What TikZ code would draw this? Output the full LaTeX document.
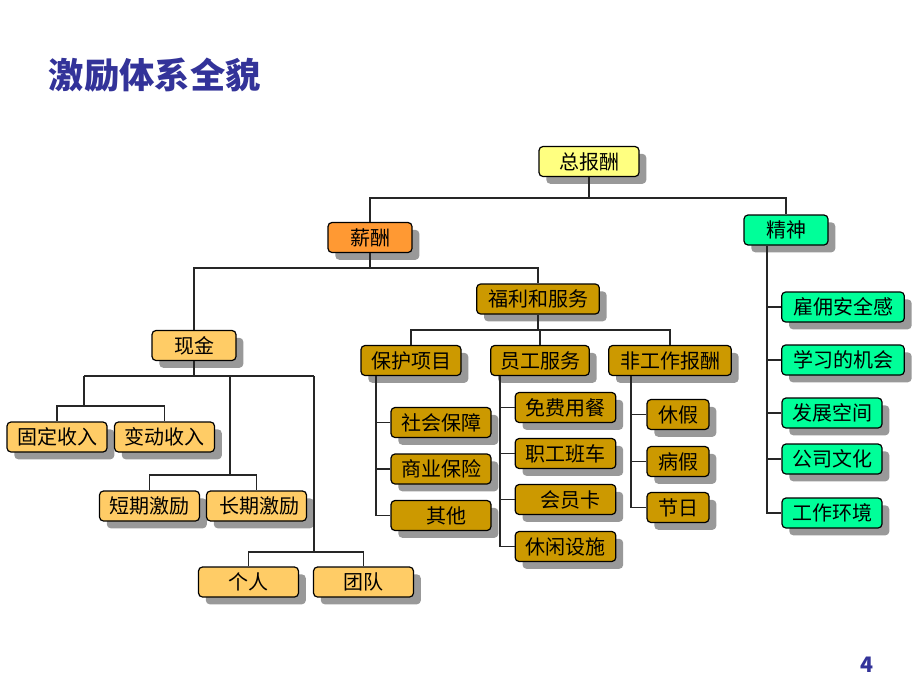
\documentclass[tikz,border=0pt]{standalone}
\usepackage{fontspec}
\setmainfont{Noto Sans CJK SC}
\usetikzlibrary{shadows}
\definecolor{cTop}{RGB}{255,255,128}
\definecolor{cSal}{RGB}{255,153,51}
\definecolor{cSpi}{RGB}{0,255,153}
\definecolor{cBen}{RGB}{204,153,0}
\definecolor{cCash}{RGB}{255,204,102}
\definecolor{cTitle}{RGB}{51,51,153}
\tikzset{
  bx/.style={draw=black, line width=0.9pt, rounded corners=3pt, inner sep=0pt,
    minimum height=22.5pt, font=\fontsize{15pt}{17pt}\selectfont,
    drop shadow={shadow xshift=5.5pt, shadow yshift=-5.5pt, fill=black!40, opacity=1}},
  wA/.style={minimum width=75pt},
  wB/.style={minimum width=92pt},
  wC/.style={minimum width=63pt},
  wD/.style={minimum width=46.5pt},
  ln/.style={draw=black!85, line width=0.9pt}
}
\begin{document}
\begin{tikzpicture}[x=0.75pt,y=-0.75pt]
\path[use as bounding box, fill=white] (0,0) rectangle (920,690);
\node[anchor=west, text=cTitle, font=\fontsize{26.5pt}{30pt}\selectfont\bfseries] (title) at (44,75) {激励体系全貌};
\node[text=cTitle, font=\fontsize{16pt}{18pt}\selectfont\bfseries] (pg) at (867,665) {4};
% top
\node[bx, wA, fill=cTop] (zbc) at (589,161.5) {总报酬};
\node[bx, wC, fill=cSal] (xc) at (370,237.5) {薪酬};
\node[bx, wC, fill=cSpi] (js) at (786,230) {精神};
\node[bx, wB, fill=cBen] (flfw) at (538,299) {福利和服务};
\node[bx, wC, fill=cCash] (xj) at (194,345.5) {现金};
% benefits
\node[bx, wA, fill=cBen] (bhxm) at (411,360.5) {保护项目};
\node[bx, minimum width=74pt, fill=cBen] (yggw) at (540,360.5) {员工服务};
\node[bx, wB, fill=cBen] (fgz) at (670,360.5) {非工作报酬};
\node[bx, wA, fill=cBen] (shbz) at (441,422.5) {社会保障};
\node[bx, wA, fill=cBen] (sybx) at (441,469) {商业保险};
\node[bx, wA, fill=cBen] (qt) at (441,515.5) {\hspace*{8pt}其他};
\node[bx, minimum width=75.5pt, fill=cBen] (mfyc) at (565.5,407.5) {免费用餐};
\node[bx, minimum width=75.5pt, fill=cBen] (zgbc) at (565.5,453.5) {职工班车};
\node[bx, minimum width=75.5pt, fill=cBen] (hyk) at (565.5,499.5) {\hspace*{8pt}会员卡};
\node[bx, minimum width=75.5pt, fill=cBen] (xxss) at (565.5,546.5) {休闲设施};
\node[bx, wD, fill=cBen] (xjia) at (678,414.5) {休假};
\node[bx, wD, fill=cBen] (bjia) at (678,461.5) {病假};
\node[bx, wD, fill=cBen] (jr) at (678,507.5) {节日};
% spirit
\node[bx, wB, fill=cSpi] (gyaq) at (843,307) {雇佣安全感};
\node[bx, wB, fill=cSpi] (xxjh) at (843,360) {学习的机会};
\node[bx, wA, fill=cSpi] (fzkj) at (832,413) {发展空间};
\node[bx, wA, fill=cSpi] (gswh) at (832,459) {公司文化};
\node[bx, wA, fill=cSpi] (gzhj) at (832,513) {工作环境};
% cash
\node[bx, wA, fill=cCash] (gdsr) at (57,437) {固定收入};
\node[bx, wA, fill=cCash] (bdsr) at (164.5,437) {变动收入};
\node[bx, wA, fill=cCash] (dqjl) at (149.5,506) {短期激励};
\node[bx, wA, fill=cCash] (cqjl) at (256.5,506) {\hspace*{4pt}长期激励};
\node[bx, wA, fill=cCash] (gr) at (248.5,582) {个人};
\node[bx, wA, fill=cCash] (td) at (363.5,582) {团队};
% connectors
\coordinate (j1) at (589,198);
\draw[ln] (zbc.south) -- (j1);
\draw[ln] (xc.north) |- (j1) -| (js.north);
\coordinate (j2) at (370,268);
\draw[ln] (xc.south) -- (j2);
\draw[ln] (xj.north) |- (j2) -| (flfw.north);
\coordinate (j3) at (538,330);
\draw[ln] (flfw.south) -- (j3);
\draw[ln] (bhxm.north) |- (j3) -| (fgz.north);
\draw[ln] (j3) -| (yggw.north);
% benefit trunks
\coordinate (t1) at (376,376);
\draw[ln] (t1) |- (qt.west);
\draw[ln] (shbz.west) -- (shbz.west -| t1);
\draw[ln] (sybx.west) -- (sybx.west -| t1);
\coordinate (t2) at (500,376);
\draw[ln] (t2) |- (xxss.west);
\draw[ln] (mfyc.west) -- (mfyc.west -| t2);
\draw[ln] (zgbc.west) -- (zgbc.west -| t2);
\draw[ln] (hyk.west) -- (hyk.west -| t2);
\coordinate (t3) at (631,376);
\draw[ln] (t3) |- (jr.west);
\draw[ln] (xjia.west) -- (xjia.west -| t3);
\draw[ln] (bjia.west) -- (bjia.west -| t3);
\coordinate (t4) at (767,245.5);
\draw[ln] (t4) |- (gzhj.west);
\draw[ln] (gyaq.west) -- (gyaq.west -| t4);
\draw[ln] (xxjh.west) -- (xxjh.west -| t4);
\draw[ln] (fzkj.west) -- (fzkj.west -| t4);
\draw[ln] (gswh.west) -- (gswh.west -| t4);
% cash tree
\coordinate (a1) at (84,376);
\coordinate (a2) at (230,376);
\coordinate (a3) at (314,376);
\draw[ln] (xj.south) -- (xj.south |- a1);
\draw[ln] (a1) -- (a3);
\coordinate (b1) at (84,406);
\draw[ln] (a1) -- (b1);
\draw[ln] (gdsr.north) |- (b1) -| (bdsr.north);
\coordinate (b2) at (230,475);
\draw[ln] (a2) -- (b2);
\draw[ln] (dqjl.north) |- (b2) -| (cqjl.north);
\coordinate (b3) at (314,552);
\draw[ln] (a3) -- (b3);
\draw[ln] (gr.north) |- (b3) -| (td.north);
\end{tikzpicture}
\end{document}
